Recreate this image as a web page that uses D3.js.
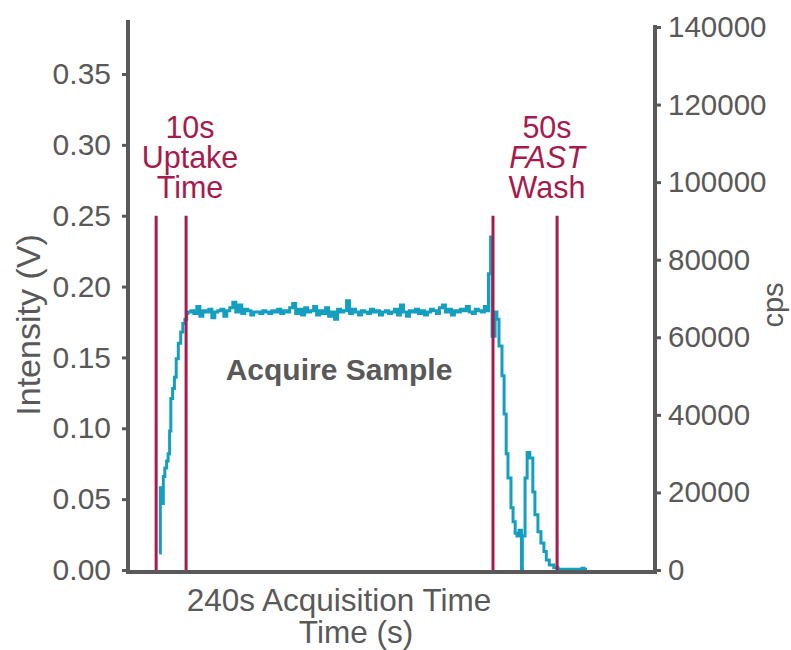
<!DOCTYPE html>
<html>
<head>
<meta charset="utf-8">
<script src="https://cdn.jsdelivr.net/npm/d3@7"></script>
<style>
  body { margin: 0; background: #fff; }
  svg { font-family: "Liberation Sans", Arial, sans-serif; }
</style>
</head>
<body>
<svg id="chart" width="791" height="650"></svg>
<script>
// Data

// rise during uptake, [time (s), intensity (V)]
const riseTrace = [
  [10.4, 0.012], [10.8, 0.058], [11.3, 0.047], [11.8, 0.066], [12.3, 0.072],
  [12.9, 0.077], [13.4, 0.082], [13.9, 0.098], [14.3, 0.121], [14.9, 0.128],
  [15.5, 0.136], [16.1, 0.149], [16.8, 0.160], [17.6, 0.168], [18.3, 0.174],
  [19.0, 0.177], [19.6, 0.181]
];

// plateau, one reading per second starting at 20 s
const plateauStart = 20;
const plateauValues = [
  0.182, 0.183, 0.181, 0.186, 0.179, 0.183, 0.182, 0.184, 0.178, 0.182,
  0.183, 0.184, 0.179, 0.183, 0.185, 0.189, 0.182, 0.187, 0.181, 0.184,
  0.183, 0.180, 0.182, 0.182, 0.181, 0.183, 0.182, 0.181, 0.183, 0.182,
  0.184, 0.181, 0.183, 0.182, 0.185, 0.188, 0.181, 0.184, 0.180, 0.185,
  0.182, 0.183, 0.186, 0.180, 0.183, 0.181, 0.185, 0.179, 0.182, 0.177,
  0.184, 0.182, 0.183, 0.190, 0.181, 0.184, 0.182, 0.180, 0.183, 0.182,
  0.181, 0.184, 0.182, 0.183, 0.180, 0.182, 0.183, 0.181, 0.182, 0.184,
  0.180, 0.187, 0.182, 0.179, 0.183, 0.182, 0.184, 0.181, 0.183, 0.180,
  0.182, 0.184, 0.183, 0.181, 0.185, 0.187, 0.182, 0.184, 0.180, 0.183,
  0.182, 0.184, 0.183, 0.186, 0.182, 0.181, 0.184, 0.183, 0.182, 0.186,
  0.183
];

// wash-out, [time (s), intensity (V)]
const washTrace = [
  [120.4, 0.209], [121.1, 0.235], [121.6, 0.165], [122.6, 0.182], [123.2, 0.177],
  [123.9, 0.158], [124.9, 0.137], [125.6, 0.110], [126.3, 0.082], [126.9, 0.065],
  [127.9, 0.044], [128.6, 0.034], [129.3, 0.026], [129.9, 0.024], [130.6, 0.028],
  [131.4, 0.0], [131.7, 0.024], [132.6, 0.065], [133.3, 0.083], [134.2, 0.079],
  [135.2, 0.055], [135.9, 0.039], [136.9, 0.027], [137.9, 0.019], [138.9, 0.013],
  [139.7, 0.007], [140.7, 0.0035], [142.2, 0.0015], [143.6, 0.0006], [151.6, 0.0012],
  [152.3, 0.0005], [153.3, 0.0005]
];

// phase markers (s) and their height (V)
const markerTimes = [9.4, 19.4, 121.9, 143.3];
const markerTop = 0.25;

const leftTicks = [0, 0.05, 0.10, 0.15, 0.20, 0.25, 0.30, 0.35];
const rightTicks = [0, 20000, 40000, 60000, 80000, 100000, 120000, 140000];

const uptakeLabel = ["10s", "Uptake", "Time"];
const washLabel = ["50s", "FAST", "Wash"];

// Setup

const grey = "#595959";
const red = "#a61b4c";
const teal = "#149fc0";

const svg = d3.select("#chart");

const xScale = d3.scaleLinear().domain([0, 176]).range([128, 655]);
const yScale = d3.scaleLinear().domain([0, 0.35]).range([570, 74]);
const yTop = yScale.invert(22);
const cpsScale = d3.scaleLinear().domain([0, 140000]).range([570, 27]);

const plateauTrace = plateauValues.map((v, i) => [plateauStart + i, v]);
const trace = riseTrace.concat(plateauTrace, washTrace);

// Trace
const line = d3.line()
  .x((d) => xScale(d[0]))
  .y((d) => yScale(d[1]))
  .curve(d3.curveStepAfter);

svg.append("path")
  .datum(trace)
  .attr("d", line)
  .attr("fill", "none")
  .attr("stroke", teal)
  .attr("stroke-width", 3)
  .attr("stroke-linejoin", "miter");

// Marker lines
svg.selectAll("line.marker")
  .data(markerTimes)
  .enter()
  .append("line")
  .classed("marker", true)
  .attr("x1", (d) => xScale(d))
  .attr("x2", (d) => xScale(d))
  .attr("y1", yScale(0))
  .attr("y2", yScale(markerTop))
  .attr("stroke", red)
  .attr("stroke-width", 3);

// Axes
const leftAxis = svg.append("g")
  .attr("transform", `translate(${xScale(0)},0)`)
  .call(d3.axisLeft(yScale).tickValues(leftTicks).tickFormat(d3.format(".2f")).tickSize(6).tickPadding(11));

const rightAxis = svg.append("g")
  .attr("transform", `translate(${xScale(176)},0)`)
  .call(d3.axisRight(cpsScale).tickValues(rightTicks).tickFormat(d3.format("d")).tickSize(6).tickPadding(7));

leftAxis.selectAll(".tick text").style("font-size", "30px");
rightAxis.selectAll(".tick text").style("font-size", "29.5px");

[leftAxis, rightAxis].forEach((g) => {
  g.select(".domain").remove();
  g.selectAll(".tick line").attr("stroke", grey).attr("stroke-width", 3);
  g.selectAll(".tick text")
    .attr("fill", grey)
    .style("font-family", '"Liberation Sans", Arial, sans-serif');
});

// Frame lines
svg.append("path")
  .attr("d", `M${xScale(0)},${yScale(yTop)} V572 H${xScale(176)} V${cpsScale(140000)}`)
  .attr("fill", "none")
  .attr("stroke", grey)
  .attr("stroke-width", 4)
  .attr("stroke-linecap", "square");

// Axis titles
svg.append("text")
  .attr("transform", "translate(40,325) rotate(-90)")
  .attr("text-anchor", "middle")
  .attr("fill", grey)
  .style("font-size", "34px")
  .text("Intensity (V)");

svg.append("text")
  .attr("transform", "translate(783,305) rotate(-90)")
  .attr("text-anchor", "middle")
  .attr("fill", grey)
  .style("font-size", "29px")
  .text("cps");

svg.append("text")
  .attr("x", 339)
  .attr("y", 611)
  .attr("text-anchor", "middle")
  .attr("fill", grey)
  .style("font-size", "31.5px")
  .text("240s Acquisition Time");

svg.append("text")
  .attr("x", 356)
  .attr("y", 643)
  .attr("text-anchor", "middle")
  .attr("fill", grey)
  .style("font-size", "31.5px")
  .text("Time (s)");

svg.append("text")
  .attr("x", 339)
  .attr("y", 380)
  .attr("text-anchor", "middle")
  .attr("fill", grey)
  .style("font-size", "30px")
  .style("font-weight", "bold")
  .text("Acquire Sample");

// Phase annotations
const drawLabel = (lines, cx) => {
  svg.append("g")
    .selectAll("text")
    .data(lines)
    .enter()
    .append("text")
    .attr("x", cx)
    .attr("y", (d, i) => 138 + i * 30)
    .attr("text-anchor", "middle")
    .attr("fill", red)
    .style("font-size", "30.5px")
    .style("font-style", (d) => (d === "FAST" ? "italic" : "normal"))
    .text((d) => d);
};
drawLabel(uptakeLabel, 190);
drawLabel(washLabel, 547);
</script>
</body>
</html>
